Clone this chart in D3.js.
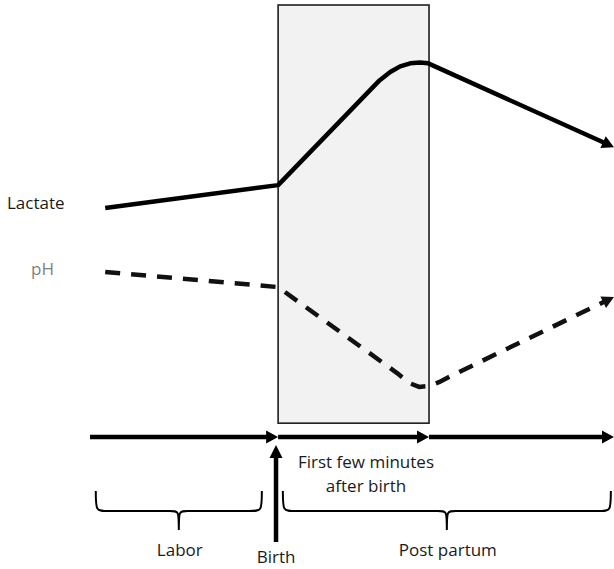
<!DOCTYPE html>
<html>
<head>
<meta charset="utf-8">
<script src="https://cdn.jsdelivr.net/npm/d3@7"></script>
<style>
  html, body { margin: 0; padding: 0; background: #fff; }
  svg { display: block; }
  text { font-family: "Open Sans", "Noto Sans", sans-serif; font-size: 17px; }
</style>
</head>
<body>
<script>
// ---------- data (abstract units: time 0..100, level 0..100) ----------
const timeline = [0, 35.9, 64.7, 100];          // labor start, birth, end of first minutes, end of post partum
const seriesNames = ["Lactate", "pH"];
const lactateT = [2.9, 35.9, 55.3, 57.3, 59.2, 61.1, 63.0, 64.5, 65.6, 100];
const lactateV = [53.0, 58.3, 82.6, 84.5, 85.8, 86.5, 86.7, 86.5, 85.9, 67.1];
const phT = [2.9, 35.9, 58.6, 60.9, 62.8, 64.7, 66.6, 68.5, 100];
const phV = [38.2, 34.7, 14.8, 12.5, 11.6, 11.8, 12.7, 13.9, 32.4];
const windowSpan = [35.9, 64.7];                 // "first few minutes" window
const windowLevels = [3.2, 100];
const windowLabel = ["First few minutes", "after birth"];
const phaseNames = ["Labor", "Post partum"];
const phaseStart = [1.1, 36.8];
const phaseEnd = [32.8, 99.4];
const birthLabel = "Birth";
const birthT = 35.5;

// ---------- layout ----------
const W = 614, H = 569;
const x = d3.scaleLinear().domain([0, 100]).range([90, 614]);
const y = d3.scaleLinear().domain([0, 100]).range([437, 5]);

const svg = d3.select("body").append("svg").attr("width", W).attr("height", H);

// window rectangle
svg.append("rect")
  .attr("x", x(windowSpan[0])).attr("y", y(windowLevels[1]))
  .attr("width", x(windowSpan[1]) - x(windowSpan[0]))
  .attr("height", y(windowLevels[0]) - y(windowLevels[1]))
  .attr("fill", "#f2f2f2").attr("stroke", "#1e1e1e").attr("stroke-width", 1.6);

// helper: polyline ending in a filled arrowhead
function arrowLine(pts, opts) {
  const o = Object.assign({len: 12, half: 6.5, width: 4.5, color: "#000", dash: null, trim: 7, curve: d3.curveLinear}, opts);
  const n = pts.length;
  const [tx, ty] = pts[n - 1], [px, py] = pts[n - 2];
  const dx = tx - px, dy = ty - py, L = Math.hypot(dx, dy);
  const ux = dx / L, uy = dy / L;
  const linePts = pts.slice(0, n - 1).concat([[tx - ux * o.trim, ty - uy * o.trim]]);
  const p = svg.append("path")
    .attr("d", d3.line().curve(o.curve)(linePts))
    .attr("fill", "none").attr("stroke", o.color).attr("stroke-width", o.width)
    .attr("stroke-linejoin", "round");
  if (o.dash) p.attr("stroke-dasharray", o.dash);
  const bx = tx - ux * o.len, by = ty - uy * o.len;
  svg.append("path")
    .attr("d", `M${tx},${ty}L${bx - uy * o.half},${by + ux * o.half}L${bx + uy * o.half},${by - ux * o.half}Z`)
    .attr("fill", o.color);
}

// Lactate series
arrowLine(lactateT.map((t, i) => [x(t), y(lactateV[i])]), {color: "#000", width: 4.5});
// pH series (dashed)
arrowLine(phT.map((t, i) => [x(t), y(phV[i])]), {color: "#111", width: 4.5, dash: "15,11"});

// series labels
svg.append("text").attr("x", 7).attr("y", y(lactateV[0]) + 1).attr("fill", "#1a1a1a").text(seriesNames[0]);
svg.append("text").attr("x", 31).attr("y", y(phV[0]) + 3).attr("fill", "#7f7f7f").text(seriesNames[1]);

// timeline arrows
for (let i = 0; i < timeline.length - 1; i++) {
  arrowLine([[x(timeline[i]), y(0)], [x(timeline[i + 1]), y(0)]], {width: 4.5, len: 12, half: 6.5});
}

// birth arrow (vertical, pointing up)
arrowLine([[x(birthT), 542], [x(birthT), 445]], {width: 4.5, len: 13, half: 6.5});

// window label
const wl = svg.append("text").attr("text-anchor", "middle").attr("fill", "#1a1a1a");
wl.append("tspan").attr("x", 366).attr("y", 468).text(windowLabel[0]);
wl.append("tspan").attr("x", 366).attr("y", 492).text(windowLabel[1]);

// braces
function brace(x0, x1, yT, yM, yB, r, rt) {
  const cx = (x0 + x1) / 2;
  return `M${x0},${yT} C${x0},${yM} ${x0},${yM} ${x0 + r},${yM} L${cx - rt},${yM} C${cx},${yM} ${cx},${yM} ${cx},${yB}` +
         ` C${cx},${yM} ${cx},${yM} ${cx + rt},${yM} L${x1 - r},${yM} C${x1},${yM} ${x1},${yM} ${x1},${yT}`;
}
phaseNames.forEach((name, i) => {
  const x0 = x(phaseStart[i]), x1 = x(phaseEnd[i]);
  svg.append("path").attr("d", brace(x0, x1, 491, 511, 530, 13, 9))
    .attr("fill", "none").attr("stroke", "#000").attr("stroke-width", 2);
  svg.append("text").attr("x", (x0 + x1) / 2 + 1).attr("y", 556).attr("text-anchor", "middle")
    .attr("fill", "#1a1a1a").text(name);
});

// birth label
svg.append("text").attr("x", x(birthT)).attr("y", 563).attr("text-anchor", "middle").attr("fill", "#1a1a1a").text(birthLabel);
</script>
</body>
</html>
